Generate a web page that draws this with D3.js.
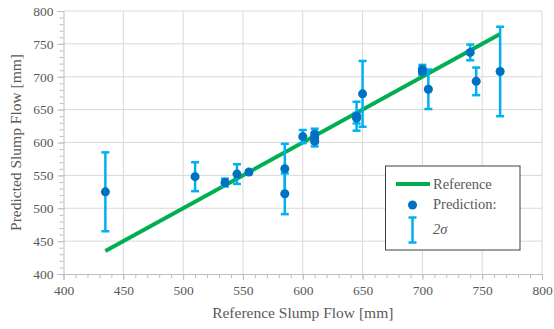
<!DOCTYPE html>
<html>
<head>
<meta charset="utf-8">
<script src="https://cdn.jsdelivr.net/npm/d3@7"></script>
<style>
    body { margin: 0; background: #fff; }
</style>
</head>
<body>
<script>

    //reference (measured) slump flow of each sample
    var refFlow = [435, 510, 535, 545, 555, 585, 585, 600, 610, 610, 610, 645, 645, 650, 700, 700, 705, 740, 745, 765];
    //predicted slump flow
    var predFlow = [525, 548, 539, 552, 555, 560, 522, 609, 613, 607, 602, 640, 637, 674, 711, 708, 681, 737, 693, 708];
    //half length of the 2 sigma error bars
    var sigma2 = [60, 22, 6, 15, 3, 38, 31, 10, 8, 8, 8, 22, 8, 50, 7, 5, 30, 12, 21, 68];

    //ends of the reference line
    var refLine = [435, 765];

    //axis ticks
    var xTicks = [400, 450, 500, 550, 600, 650, 700, 750, 800];
    var yTicks = [400, 450, 500, 550, 600, 650, 700, 750, 800];

    //legend entries
    var legendLabels = ["Reference", "Prediction:", "2σ"];

    var serif = "'Liberation Serif', 'Times New Roman', serif";

    window.onload = setChart();

    function setChart(){

        //frame dimensions
        var width = 554,
            height = 329;

        //plot area
        var left = 63.5, right = 542, top = 11, bottom = 274;

        var svg = d3.select("body")
            .append("svg")
            .attr("width", width)
            .attr("height", height)
            .style("font-family", serif);

        var x = d3.scaleLinear().domain([400, 800]).range([left, right]);
        var y = d3.scaleLinear().domain([400, 800]).range([bottom, top]);

        //gridlines
        svg.append("g")
            .selectAll("line")
            .data(xTicks.slice(1))
            .join("line")
            .attr("x1", function(d){ return x(d); })
            .attr("x2", function(d){ return x(d); })
            .attr("y1", top)
            .attr("y2", bottom)
            .attr("stroke", "#d9d9d9")
            .attr("stroke-width", 1);

        svg.append("g")
            .selectAll("line")
            .data(yTicks.slice(1))
            .join("line")
            .attr("x1", left)
            .attr("x2", right)
            .attr("y1", function(d){ return y(d); })
            .attr("y2", function(d){ return y(d); })
            .attr("stroke", "#d9d9d9")
            .attr("stroke-width", 1);

        //minor ticks every 10 mm
        var minor = d3.range(400, 801, 10);

        //x axis
        var xAxis = svg.append("g")
            .attr("transform", "translate(0," + bottom + ")")
            .call(d3.axisBottom(x).tickValues(minor).tickSize(4).tickFormat(""));
        xAxis.select(".domain").remove();
        xAxis.selectAll("line").attr("stroke", "#bfbfbf");

        var xMajor = svg.append("g")
            .attr("transform", "translate(0," + bottom + ")")
            .call(d3.axisBottom(x).tickValues(xTicks).tickSize(6).tickPadding(5));
        xMajor.select(".domain").attr("stroke", "#bfbfbf");
        xMajor.selectAll("line").attr("stroke", "#bfbfbf");
        xMajor.selectAll("text")
            .attr("fill", "#595959")
            .style("font-family", serif)
            .style("font-size", "13.5px");

        //y axis
        var yAxis = svg.append("g")
            .attr("transform", "translate(" + left + ",0)")
            .call(d3.axisLeft(y).tickValues(minor).tickSize(4).tickFormat(""));
        yAxis.select(".domain").remove();
        yAxis.selectAll("line").attr("stroke", "#bfbfbf");

        var yMajor = svg.append("g")
            .attr("transform", "translate(" + left + ",0)")
            .call(d3.axisLeft(y).tickValues(yTicks).tickSize(6).tickPadding(4));
        yMajor.select(".domain").attr("stroke", "#bfbfbf");
        yMajor.selectAll("line").attr("stroke", "#bfbfbf");
        yMajor.selectAll("text")
            .attr("fill", "#595959")
            .style("font-family", serif)
            .style("font-size", "13.5px");

        //axis titles
        svg.append("text")
            .attr("x", (left + right) / 2)
            .attr("y", 318)
            .attr("text-anchor", "middle")
            .attr("fill", "#595959")
            .style("font-size", "15.5px")
            .text("Reference Slump Flow [mm]");

        svg.append("text")
            .attr("transform", "translate(21," + ((top + bottom) / 2) + ") rotate(-90)")
            .attr("text-anchor", "middle")
            .attr("fill", "#595959")
            .style("font-size", "15.5px")
            .text("Predicted Slump Flow [mm]");

        //reference line
        svg.append("line")
            .attr("x1", x(refLine[0]))
            .attr("y1", y(refLine[0]))
            .attr("x2", x(refLine[1]))
            .attr("y2", y(refLine[1]))
            .attr("stroke", "#00b050")
            .attr("stroke-width", 4);

        //error bars
        var bars = svg.append("g")
            .attr("stroke", "#00b0f0")
            .attr("stroke-width", 2.5);

        refFlow.forEach(function(d, i){
            var lo = predFlow[i] - sigma2[i],
                hi = predFlow[i] + sigma2[i];
            bars.append("line")
                .attr("x1", x(d)).attr("x2", x(d))
                .attr("y1", y(lo)).attr("y2", y(hi));
            [lo, hi].forEach(function(v){
                bars.append("line")
                    .attr("x1", x(d) - 4).attr("x2", x(d) + 4)
                    .attr("y1", y(v)).attr("y2", y(v));
            });
        });

        //prediction points
        svg.append("g")
            .selectAll("circle")
            .data(refFlow)
            .join("circle")
            .attr("cx", function(d){ return x(d); })
            .attr("cy", function(d, i){ return y(predFlow[i]); })
            .attr("r", 4.5)
            .attr("fill", "#0070c0");

        //legend
        var legend = svg.append("g");

        legend.append("rect")
            .attr("x", 385.5)
            .attr("y", 166)
            .attr("width", 134.5)
            .attr("height", 84)
            .attr("fill", "#fff")
            .attr("stroke", "#404040")
            .attr("stroke-width", 1);

        legend.append("line")
            .attr("x1", 396).attr("x2", 430)
            .attr("y1", 184).attr("y2", 184)
            .attr("stroke", "#00b050")
            .attr("stroke-width", 4);

        legend.append("circle")
            .attr("cx", 412.5)
            .attr("cy", 205)
            .attr("r", 4.5)
            .attr("fill", "#0070c0");

        var sym = legend.append("g")
            .attr("stroke", "#00b0f0")
            .attr("stroke-width", 2.5);
        sym.append("line").attr("x1", 412.5).attr("x2", 412.5).attr("y1", 217.5).attr("y2", 242.5);
        sym.append("line").attr("x1", 408.5).attr("x2", 416.5).attr("y1", 217.5).attr("y2", 217.5);
        sym.append("line").attr("x1", 408.5).attr("x2", 416.5).attr("y1", 242.5).attr("y2", 242.5);

        legend.selectAll("text")
            .data(legendLabels)
            .join("text")
            .attr("x", 433)
            .attr("y", function(d, i){ return [189, 209, 234][i]; })
            .attr("fill", "#595959")
            .style("font-size", "14.5px")
            .style("font-style", function(d, i){ return i == 2 ? "italic" : "normal"; })
            .text(function(d){ return d; });

    } //end of setChart()

</script>
</body>
</html>
